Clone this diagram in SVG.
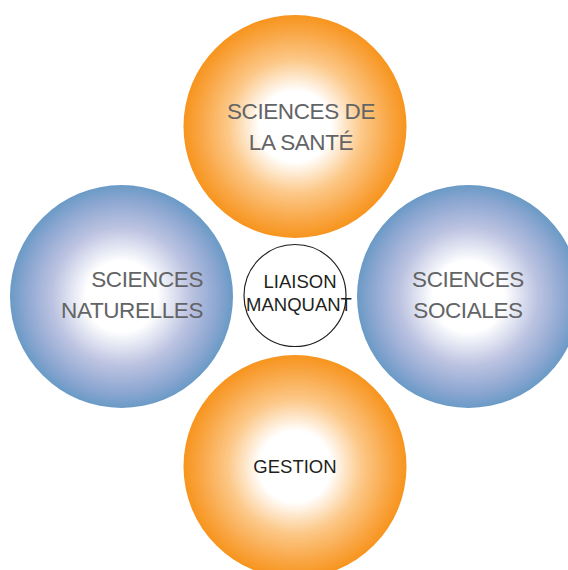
<svg xmlns="http://www.w3.org/2000/svg" width="568" height="570" viewBox="0 0 568 570">
<defs>
<radialGradient id="gOrange" cx="0.5" cy="0.5" r="0.5">
<stop offset="0" stop-color="#ffffff"/>
<stop offset="0.32" stop-color="#ffffff"/>
<stop offset="0.6" stop-color="#fcc888"/>
<stop offset="0.85" stop-color="#f9a644"/>
<stop offset="1" stop-color="#f7941d"/>
</radialGradient>
<radialGradient id="gBlue" cx="0.5" cy="0.5" r="0.5">
<stop offset="0" stop-color="#ffffff"/>
<stop offset="0.32" stop-color="#ffffff"/>
<stop offset="0.62" stop-color="#bcc3e1"/>
<stop offset="0.85" stop-color="#8fa8d2"/>
<stop offset="1" stop-color="#6a9ac6"/>
</radialGradient>
</defs>
<style>
.big{font-family:"Liberation Sans",Arial,sans-serif;font-size:22.5px;letter-spacing:-0.4px;fill:#636466}
.small{font-family:"Liberation Sans",Arial,sans-serif;font-size:18.5px;fill:#231f20;text-anchor:middle}
</style>
<rect width="568" height="570" fill="#ffffff"/>
<g id="connectors"/>
<g id="sante">
<circle cx="295" cy="126.5" r="111.5" fill="url(#gOrange)"/>
<text class="big" x="301" y="119" text-anchor="middle">SCIENCES DE</text>
<text class="big" x="301" y="150" text-anchor="middle">LA SANTÉ</text>
</g>
<g id="naturelles">
<circle cx="121.5" cy="296.5" r="111.5" fill="url(#gBlue)"/>
<text class="big" x="203" y="287" text-anchor="end">SCIENCES</text>
<text class="big" x="203" y="318" text-anchor="end">NATURELLES</text>
</g>
<g id="sociales">
<circle cx="468.5" cy="296.5" r="111.5" fill="url(#gBlue)"/>
<text class="big" x="468" y="287" text-anchor="middle">SCIENCES</text>
<text class="big" x="468" y="318" text-anchor="middle">SOCIALES</text>
</g>
<g id="gestion">
<circle cx="295" cy="466.5" r="111.5" fill="url(#gOrange)"/>
<text class="small" x="295" y="473">GESTION</text>
</g>
<g id="liaison">
<circle cx="295" cy="295.5" r="51" fill="#ffffff" stroke="#231f20" stroke-width="1.2"/>
<text class="small" x="300" y="288">LIAISON</text>
<text class="small" x="299" y="311">MANQUANT</text>
</g>
</svg>
